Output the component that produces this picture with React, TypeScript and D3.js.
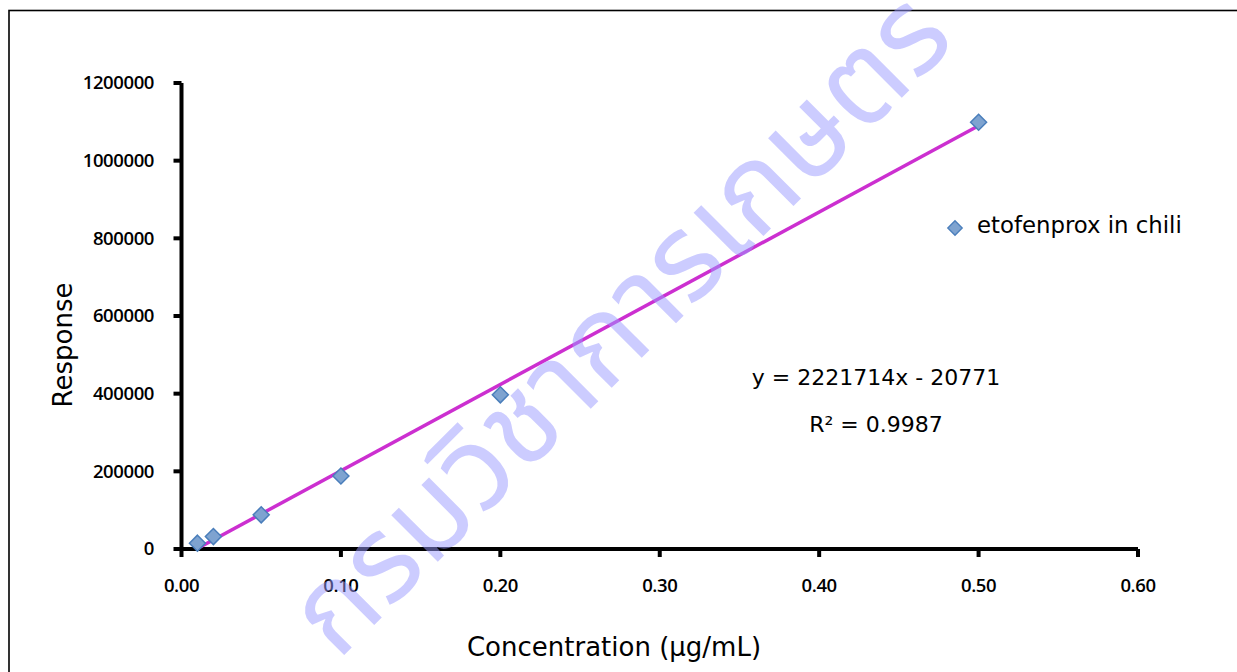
import React from "react";
import * as d3 from "d3";

const concentrations = [0.01, 0.02, 0.05, 0.1, 0.2, 0.5];
const responses = [15000, 32000, 88000, 188000, 397000, 1099000];
const xTicks = [0, 0.1, 0.2, 0.3, 0.4, 0.5, 0.6];
const yTicks = [0, 200000, 400000, 600000, 800000, 1000000, 1200000];
const slope = 2221714;
const intercept = -20771;
const seriesName = "etofenprox in chili";
const equationText = "y = 2221714x - 20771";
const r2Text = "R² = 0.9987";
const watermark = "กรมวิชาการเกษตร";

const W = 1237;
const H = 672;
const FONT = "Tahoma, 'DejaVu Sans', 'Noto Sans', sans-serif";
const TICKFONT = "'Open Sans', 'Noto Sans', sans-serif";

export default function App() {
  const x = d3.scaleLinear().domain([0, 0.6]).range([181.5, 1138]);
  const y = d3.scaleLinear().domain([0, 1200000]).range([549, 83]);
  const fitX = [concentrations[0], concentrations[concentrations.length - 1]];
  const line = d3
    .line<number>()
    .x((d) => x(d))
    .y((d) => y(slope * d + intercept));
  const diamondSq = "M0,-8L8,0L0,8L-8,0Z";

  return (
    <svg
      width={W}
      height={H}
      style={{ position: "fixed", left: 0, top: 0, background: "#fff" }}
    >
      <rect x={0} y={0} width={W} height={H} fill="#fff" />
      <rect x={9} y={10.5} width={W + 10} height={H + 10} fill="none" stroke="#000" strokeWidth={1.6} />

      {/* axes */}
      <line x1={x(0)} x2={x(0)} y1={y(1200000)} y2={y(0) + 2} stroke="#000" strokeWidth={4} />
      <line x1={x(0) - 2} x2={x(0.6)} y1={y(0)} y2={y(0)} stroke="#000" strokeWidth={4} />
      {yTicks.map((t) => (
        <g key={"y" + t}>
          <line x1={x(0) - 8} x2={x(0)} y1={y(t)} y2={y(t)} stroke="#000" strokeWidth={4} />
          <text
            x={154}
            y={y(t)}
            dy="0.35em"
            textAnchor="end"
            fontFamily={TICKFONT}
            fontWeight={600}
            fontSize={18.5}
            letterSpacing={-0.4}
            fill="#000"
          >
            {t}
          </text>
        </g>
      ))}
      {xTicks.map((t) => (
        <g key={"x" + t}>
          <line x1={x(t)} x2={x(t)} y1={y(0)} y2={y(0) + 8} stroke="#000" strokeWidth={4} />
          <text
            x={x(t)}
            y={592}
            textAnchor="middle"
            fontFamily={TICKFONT}
            fontWeight={600}
            fontSize={18.5}
            letterSpacing={-0.4}
            fill="#000"
          >
            {t.toFixed(2)}
          </text>
        </g>
      ))}

      {/* trendline */}
      <path d={line(fitX) as string} stroke="#cc2fd0" strokeWidth={3.5} fill="none" />

      {/* points */}
      {concentrations.map((c, i) => (
        <path
          key={i}
          d={diamondSq}
          transform={`translate(${x(c)},${y(responses[i])})`}
          fill="#7ea3d0"
          stroke="#4a7ebb"
          strokeWidth={1.5}
        />
      ))}

      {/* legend */}
      <path d={diamondSq} transform="translate(955,228) scale(0.9)" fill="#7ea3d0" stroke="#4a7ebb" strokeWidth={1.5} />
      <text x={977} y={233} fontFamily={FONT} fontSize={22.8} fill="#000">
        {seriesName}
      </text>

      {/* equation */}
      <text x={876} y={385} textAnchor="middle" fontFamily={FONT} fontSize={22} fill="#000">
        {equationText}
      </text>
      <text x={876} y={432} textAnchor="middle" fontFamily={FONT} fontSize={22} fill="#000">
        {r2Text}
      </text>

      {/* axis titles */}
      <text
        transform="translate(72,345) rotate(-90)"
        textAnchor="middle"
        fontFamily={FONT}
        fontSize={26}
        fill="#000"
      >
        Response
      </text>
      <text x={614} y={656} textAnchor="middle" fontFamily={FONT} fontSize={26} fill="#000">
        Concentration (µg/mL)
      </text>

      {/* watermark */}
      <text
        transform="translate(618,322) rotate(-45)"
        textAnchor="middle"
        dy="0.35em"
        fontFamily="'Noto Sans Thai', 'Noto Sans', 'DejaVu Sans', sans-serif"
        fontSize={120}
        fill="#9999ff"
        fillOpacity={0.5}
      >
        {watermark}
      </text>
    </svg>
  );
}
